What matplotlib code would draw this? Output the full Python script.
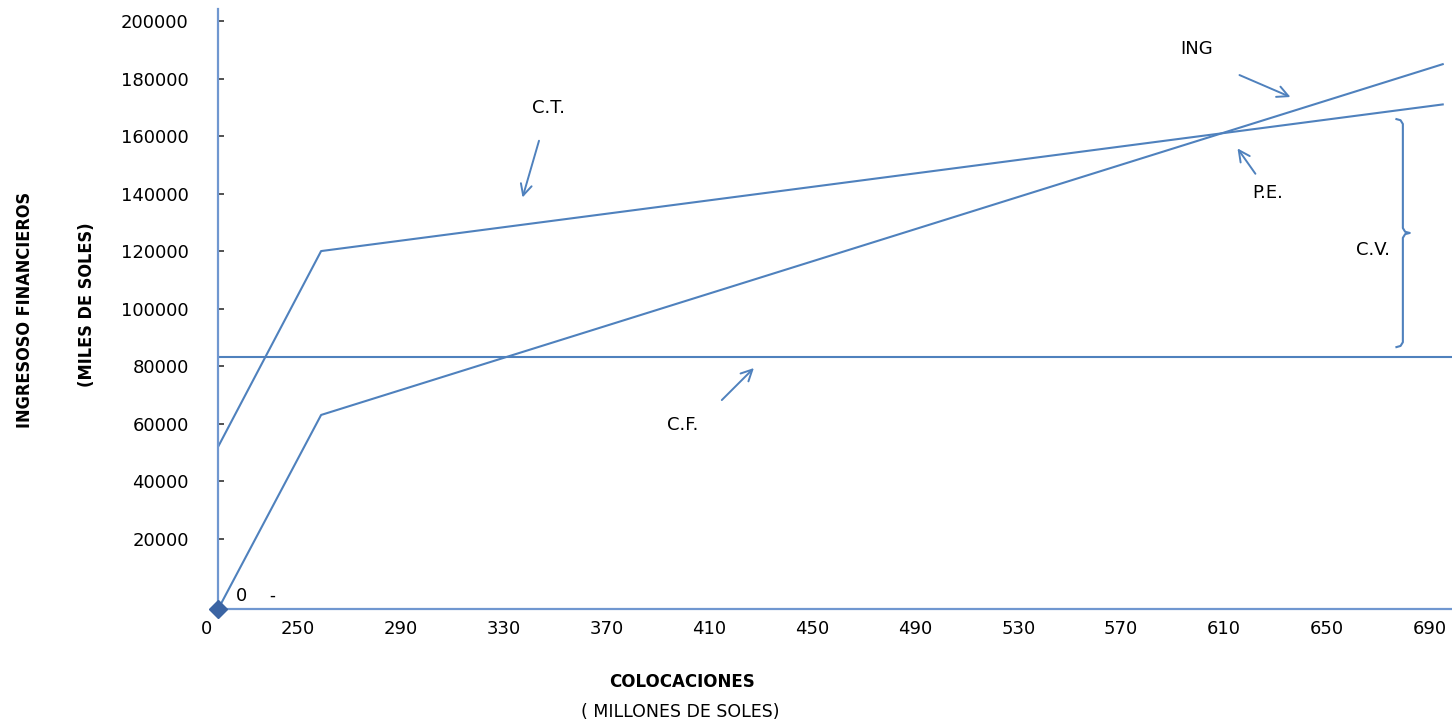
import matplotlib
matplotlib.use("Agg")
import matplotlib.pyplot as plt
from matplotlib import font_manager

# datos (colocaciones en millones, montos en miles de soles)
x_tramos = [219, 259, 695]
costo_total = [52000, 120000, 171000]
ingresos = [-4500, 63000, 185000]
x_fijo = [219, 698.6]
costo_fijo = [83000, 83000]

x_ticks = [250, 290, 330, 370, 410, 450, 490, 530, 570, 610, 650, 690]
y_ticks = [20000, 40000, 60000, 80000, 100000, 120000, 140000, 160000, 180000, 200000]

AZUL = "#4f81bd"
EJE = "#7097d0"

# buscar alguna fuente angosta en negrita para el titulo del eje y
fuente_angosta = None
for f in font_manager.fontManager.ttflist:
    n = (f.name + " " + f.fname).lower()
    if ("narrow" in n or "condensed" in n or f.stretch in ("condensed", 75)) and \
            f.weight in ("bold", 700):
        fuente_angosta = font_manager.FontProperties(fname=f.fname)
        break
if fuente_angosta is None:
    fuente_angosta = font_manager.FontProperties(family="DejaVu Sans", weight="bold")
    tam_angosto = 11.8
else:
    tam_angosto = 13
fuente_angosta.set_size(tam_angosto)

plt.rcParams["font.family"] = "DejaVu Sans"

fig = plt.figure(figsize=(14.52, 7.24), dpi=100)
ax = fig.add_axes([0.1501, 0.1588, 0.8499, 0.8288])

ax.plot(x_tramos, costo_total, color=AZUL, lw=1.5)
ax.plot(x_tramos, ingresos, color=AZUL, lw=1.5)
ax.plot(x_fijo, costo_fijo, color=AZUL, lw=1.5)
ax.plot([x_tramos[0]], [ingresos[0]], marker="D", ms=9, color="#3b64a3",
        clip_on=False, zorder=5)

ax.set_xlim(218.9, 698.6)
ax.set_ylim(-4500, 204200)

for s in ["top", "right"]:
    ax.spines[s].set_visible(False)
ax.spines["left"].set_color(EJE)
ax.spines["bottom"].set_color(EJE)
ax.spines["left"].set_linewidth(1.6)
ax.spines["bottom"].set_linewidth(1.6)

ax.set_xticks(x_ticks)
ax.set_xticklabels([str(v) for v in x_ticks], fontsize=13)
ax.tick_params(axis="x", length=0, pad=8)
ax.set_yticks(y_ticks)
ax.set_yticklabels([str(v) for v in y_ticks], fontsize=13)
ax.tick_params(axis="y", direction="in", length=4, width=1.2, color="#333333", pad=21)

# "0" del eje x a la izquierda del origen, y el 0 suelto del eje y
ax.annotate("0", xy=(214.6, -4500), xytext=(0, -8), textcoords="offset points",
            ha="center", va="top", fontsize=13, annotation_clip=False)
ax.text(228.2, 0, "0", ha="center", va="center", fontsize=13)
ax.text(239.9, 0, "-", ha="center", va="center", fontsize=12)

# etiquetas y flechas
flecha = dict(arrowstyle="->,head_length=0.8,head_width=0.4", color=AZUL, lw=1.4)
ax.text(347.2, 169700, "C.T.", ha="center", va="center", fontsize=13)
ax.annotate("", xy=(337, 137700), xytext=(344, 159300), arrowprops=flecha)
ax.text(599.4, 190300, "ING", ha="center", va="center", fontsize=13)
ax.annotate("", xy=(636.8, 173200), xytext=(615, 181600), arrowprops=flecha)
ax.text(627, 140200, "P.E.", ha="center", va="center", fontsize=13)
ax.annotate("", xy=(614.6, 156500), xytext=(622.8, 146100), arrowprops=flecha)
ax.text(399.6, 59500, "C.F.", ha="center", va="center", fontsize=13)
ax.annotate("", xy=(428, 80000), xytext=(414, 67500), arrowprops=flecha)
ax.text(667.9, 120300, "C.V.", ha="center", va="center", fontsize=13)

# llave del costo variable
llave_x = [677.0, 678.6, 679.5, 679.5, 680.4, 682.2, 680.4, 679.5, 679.5, 678.6, 677.0]
llave_y = [165900, 165500, 164200, 128000, 126700, 126300, 125900, 124600, 88300, 87000, 86600]
ax.plot(llave_x, llave_y, color=AZUL, lw=1.5)

fig.text(25 / 1452, 1 - 310 / 724, "INGRESOSO FINANCIEROS", rotation=90,
         ha="center", va="center", fontproperties=fuente_angosta)
fig.text(87 / 1452, 1 - 305 / 724, "(MILES DE SOLES)", rotation=90,
         ha="center", va="center", fontproperties=fuente_angosta)
fig.text(682 / 1452, 1 - 682 / 724, "COLOCACIONES", ha="center", va="center",
         fontsize=12, fontweight="bold")
fig.text(680 / 1452, 1 - 712 / 724, "( MILLONES DE SOLES)", ha="center", va="center",
         fontsize=12.5)

fig.savefig("out.png", dpi=100)
